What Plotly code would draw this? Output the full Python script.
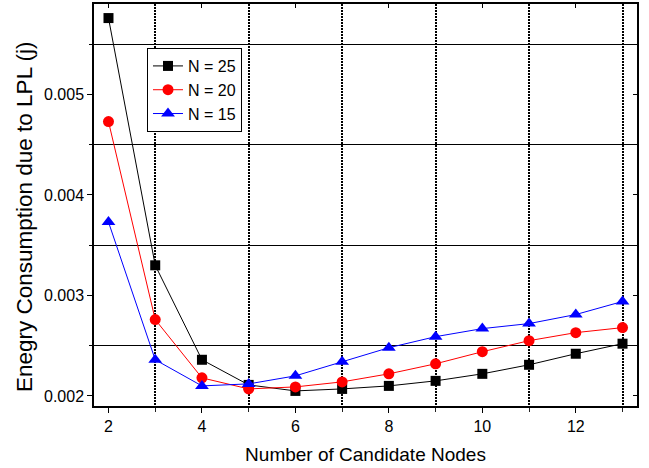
import plotly.graph_objects as go

x_nodes = [2, 3, 4, 5, 6, 7, 8, 9, 10, 11, 12, 13]
n25 = [0.00576, 0.00330, 0.00236, 0.00211, 0.00205, 0.00207, 0.00210, 0.00215, 0.00222, 0.00231, 0.00242, 0.00252]
n20 = [0.00473, 0.00276, 0.00218, 0.00207, 0.00209, 0.00214, 0.00222, 0.00232, 0.00244, 0.00255, 0.00263, 0.00268]
n15 = [0.00373, 0.00236, 0.00210, 0.00212, 0.00220, 0.00234, 0.00248, 0.00259, 0.00267, 0.00272, 0.00281, 0.00294]

series = [
    ("N = 25", n25, "black", "square", 10),
    ("N = 20", n20, "red", "circle", 11),
    ("N = 15", n15, "blue", "triangle-up", 12),
]

y_title = "Enegry Consumption due to LPL (j)"
x_title = "Number of Candidate Nodes"

FONT = "Arial, Liberation Sans, sans-serif"
XR = [1.69, 13.31]
YR = [0.0019, 0.0059]

fig = go.Figure()
for name, vals, color, sym, sz in series:
    fig.add_trace(go.Scatter(
        x=x_nodes, y=vals, name=name, mode="lines+markers",
        line=dict(color=color, width=1),
        marker=dict(symbol=sym, size=sz, color=color),
    ))

# invisible trace to anchor mirror axes
fig.add_trace(go.Scatter(x=[XR[0]], y=[YR[0]], xaxis="x2", yaxis="y2",
                         mode="markers", marker=dict(opacity=0), showlegend=False,
                         hoverinfo="skip"))

fig.update_layout(
    width=649, height=468,
    margin=dict(l=94, r=12, t=4, b=62),
    paper_bgcolor="white", plot_bgcolor="white",
    font=dict(family=FONT, color="black"),
    showlegend=True,
    legend=dict(x=0.0976, y=0.8905, xanchor="left", yanchor="top",
                bordercolor="black", borderwidth=1, bgcolor="white",
                font=dict(size=16, family=FONT), tracegroupgap=0),
    xaxis=dict(
        range=XR, tick0=2, dtick=2, ticks="outside", ticklen=5, tickwidth=1,
        tickcolor="black", showline=True, linecolor="black", linewidth=1.5,
        showgrid=False, zeroline=False,
        tickfont=dict(size=16, family=FONT),
        title=dict(text=x_title, font=dict(size=19, family=FONT), standoff=14),
        minor=dict(tick0=3, dtick=2, ticks="outside", ticklen=4, tickcolor="#222",
                   showgrid=True, gridcolor="black", gridwidth=2, griddash="2px,1px"),
    ),
    yaxis=dict(
        range=YR, tick0=0.002, dtick=0.001, tickformat=".3f",
        ticks="outside", ticklen=5, tickwidth=1, tickcolor="black",
        showline=True, linecolor="black", linewidth=1.5,
        showgrid=False, zeroline=False,
        tickfont=dict(size=16, family=FONT),
        minor=dict(tick0=0.0025, dtick=0.001, ticks="outside", ticklen=3, tickcolor="black",
                   showgrid=True, gridcolor="black", gridwidth=1),
    ),
    xaxis2=dict(
        overlaying="x", side="top", anchor="y", range=XR, tick0=2, dtick=2,
        ticks="inside", ticklen=4, tickcolor="black", showticklabels=False,
        showline=True, linecolor="black", linewidth=1.5, showgrid=False, zeroline=False,
    ),
    yaxis2=dict(
        overlaying="y", side="right", anchor="x", range=YR, tick0=0.002, dtick=0.001,
        ticks="inside", ticklen=4, tickcolor="black", showticklabels=False,
        showline=True, linecolor="black", linewidth=1.5, showgrid=False, zeroline=False,
    ),
    annotations=[dict(
        text=y_title, textangle=-90, showarrow=False,
        xref="paper", yref="paper", x=-0.1289, y=0.470,
        xanchor="center", yanchor="middle",
        font=dict(size=22.5, family=FONT, color="black"),
    )],
)

fig.write_html("out.html")
